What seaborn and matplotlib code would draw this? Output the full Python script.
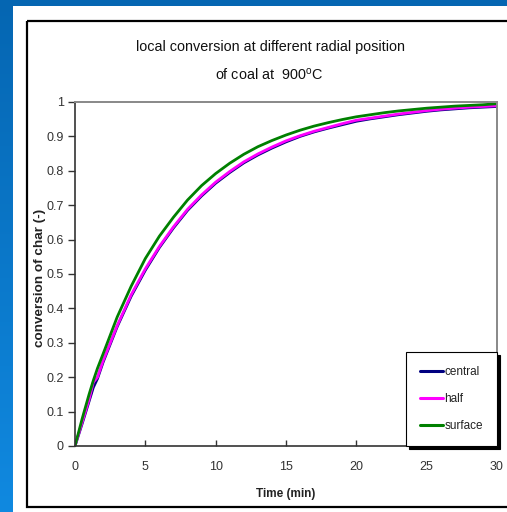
import numpy as np
import pandas as pd
import matplotlib
matplotlib.use("Agg")
import matplotlib.pyplot as plt
from matplotlib.patches import Rectangle
from matplotlib.colors import LinearSegmentedColormap
import seaborn as sns

# Time axis (min) and local char conversion at three radial positions
time_min = [0, 0.5, 1, 1.3, 1.6, 2, 3, 4, 5, 6, 7, 8, 9, 10, 11, 12, 13, 14, 15,
            16, 17, 18, 19, 20, 21, 22, 23, 24, 25, 26, 27, 28, 29, 30]
central = [0, 0.064, 0.130, 0.170, 0.196, 0.244, 0.347, 0.436, 0.511, 0.577,
           0.634, 0.685, 0.727, 0.764, 0.795, 0.823, 0.846, 0.866, 0.884, 0.900,
           0.913, 0.924, 0.934, 0.944, 0.951, 0.957, 0.963, 0.968, 0.973, 0.977,
           0.980, 0.983, 0.985, 0.987]
half = [0, 0.068, 0.135, 0.185, 0.200, 0.248, 0.350, 0.440, 0.515, 0.580,
        0.637, 0.688, 0.730, 0.767, 0.798, 0.826, 0.849, 0.869, 0.887, 0.902,
        0.915, 0.926, 0.937, 0.947, 0.953, 0.959, 0.965, 0.970, 0.975, 0.979,
        0.982, 0.985, 0.987, 0.989]
surface = [0, 0.078, 0.150, 0.190, 0.226, 0.268, 0.375, 0.465, 0.545, 0.610,
           0.665, 0.715, 0.757, 0.792, 0.822, 0.848, 0.870, 0.888, 0.904, 0.918,
           0.930, 0.940, 0.949, 0.957, 0.963, 0.969, 0.974, 0.978, 0.982, 0.985,
           0.988, 0.990, 0.992, 0.995]

series_names = ["central", "half", "surface"]
series_colors = ["#000080", "#FF00FF", "#008000"]
x_ticks = [0, 5, 10, 15, 20, 25, 30]
y_ticks = [0, 0.1, 0.2, 0.3, 0.4, 0.5, 0.6, 0.7, 0.8, 0.9, 1]
y_tick_labels = ["0", "0.1", "0.2", "0.3", "0.4", "0.5", "0.6", "0.7", "0.8", "0.9", "1"]

df = pd.DataFrame({
    "time": time_min * 3,
    "conversion": central + half + surface,
    "position": sum([[n] * len(time_min) for n in series_names], []),
})

sns.set_style("white")
SANS = ["Liberation Sans", "DejaVu Sans"]
plt.rcParams["font.family"] = SANS
plt.rcParams["mathtext.fontset"] = "custom"
plt.rcParams["mathtext.rm"] = "Liberation Sans"

W, H = 507, 512
fig = plt.figure(figsize=(W / 100, H / 100), dpi=100)

# slide background: blue gradient with white panel
bg = fig.add_axes([0, 0, 1, 1], zorder=-10)
bg.set_axis_off()
grad = np.linspace(0, 1, 256).reshape(-1, 1)
cmap = LinearSegmentedColormap.from_list("slide", ["#0566B2", "#1089E0"])
bg.imshow(grad, aspect="auto", cmap=cmap, extent=[0, W, H, 0])
bg.set_xlim(0, W)
bg.set_ylim(H, 0)
bg.add_patch(Rectangle((12.7, 6), W, H, facecolor="white", edgecolor="none"))
bg.add_patch(Rectangle((27, 21), W, 486, facecolor="none", edgecolor="black", lw=1.6))

ax = fig.add_axes([75 / W, 1 - 446 / H, 422 / W, 344 / H])
ax.set_facecolor("white")
sns.lineplot(data=df, x="time", y="conversion", hue="position",
             hue_order=series_names, palette=series_colors, lw=2.0,
             ax=ax, legend=False, sort=False)

ax.set_xlim(0, 30)
ax.set_ylim(0, 1)
ax.set_xticks(x_ticks)
ax.set_xticklabels([str(t) for t in x_ticks])
ax.set_yticks(y_ticks)
ax.set_yticklabels(y_tick_labels)
ax.tick_params(axis="x", direction="in", length=4, width=1, pad=11,
               labelsize=9, labelcolor="#333333", color="#333333")
ax.tick_params(axis="y", direction="out", length=5, width=1, pad=3,
               labelsize=9, labelcolor="#333333", color="#333333")
ax.tick_params(left=True, bottom=True)
for side in ["left", "bottom"]:
    ax.spines[side].set_color("#333333")
    ax.spines[side].set_linewidth(1.2)
for side in ["top", "right"]:
    ax.spines[side].set_color("#888888")
    ax.spines[side].set_linewidth(1.4)

ax.set_xlabel("Time (min)", fontsize=8.5, fontweight="bold", color="#222222")
ax.xaxis.set_label_coords(0.5, -0.122)
ax.set_ylabel("conversion of char (-)", fontsize=9.7, fontweight="bold",
              color="#222222")
ax.yaxis.set_label_coords(-0.068, 0.49)

handles = [plt.Line2D([], [], color=c, lw=2.2) for c in series_colors]
leg = ax.legend(handles, series_names, loc="lower right", bbox_to_anchor=(1, 0),
                borderaxespad=0, fontsize=8.5, frameon=True, fancybox=False,
                handlelength=1.9, handletextpad=0.15, labelspacing=1.25,
                borderpad=1.2, shadow={"color": "black", "alpha": 1})
leg.get_frame().set_edgecolor("black")
leg.get_frame().set_linewidth(0.8)
for t in leg.get_texts():
    t.set_color("#222222")

fig.text(270 / W, 1 - 47 / H, "local conversion at different radial position",
         ha="center", va="center", fontsize=10.4, color="#111111")
fig.text(269 / W, 1 - 75 / H, "of coal at  900$^\\mathregular{o}$C",
         ha="center", va="center", fontsize=10.4, color="#111111")

fig.savefig("out.png", dpi=100)
